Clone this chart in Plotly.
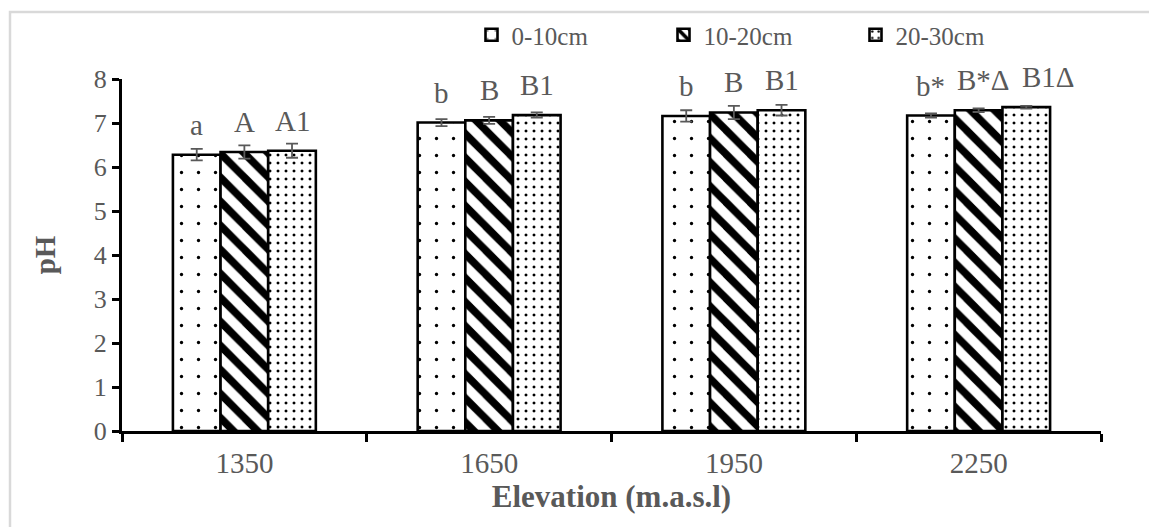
import plotly.graph_objects as go

# ---- data ----
elevations = ["1350", "1650", "1950", "2250"]
series_names = ["0-10cm", "10-20cm", "20-30cm"]
ph_0_10 = [6.28, 7.01, 7.16, 7.17]
ph_10_20 = [6.34, 7.06, 7.24, 7.29]
ph_20_30 = [6.37, 7.18, 7.29, 7.36]
err_0_10 = [0.13, 0.08, 0.13, 0.05]
err_10_20 = [0.15, 0.08, 0.15, 0.04]
err_20_30 = [0.16, 0.06, 0.12, 0.03]
lab_0_10 = ["a", "b", "b", "b*"]
lab_10_20 = ["A", "B", "B", "B*Δ"]
lab_20_30 = ["A1", "B1", "B1", "B1Δ"]
y_ticks = [0, 1, 2, 3, 4, 5, 6, 7, 8]

values = [ph_0_10, ph_10_20, ph_20_30]
errors = [err_0_10, err_10_20, err_20_30]
labels = [lab_0_10, lab_10_20, lab_20_30]

# ---- style ----
FONT = "Liberation Serif"
GRAY = "#595959"
W, H = 1149, 527
ML, MR, MT, MB = 122, 48, 79, 96
BARGAP = 0.416
patterns = [
    dict(shape=".", size=17, solidity=0.03, fgcolor="black", bgcolor="white",
         fillmode="overlay", fgopacity=1),
    dict(shape="\\", size=17, solidity=0.45, fgcolor="black", bgcolor="white",
         fillmode="overlay", fgopacity=1),
    dict(shape=".", size=8, solidity=0.11, fgcolor="black", bgcolor="white",
         fillmode="overlay", fgopacity=1),
]
label_nudge = {(3, 1): 5, (3, 2): 22}

fig = go.Figure()
for j in range(3):
    fig.add_trace(go.Bar(
        x=elevations, y=values[j], name=series_names[j],
        marker=dict(color="white", pattern=patterns[j],
                    line=dict(color="black", width=2.6)),
        error_y=dict(type="data", array=errors[j], visible=True,
                     color=GRAY, thickness=1.8, width=6),
    ))

bw = (1 - BARGAP) / 3
annotations = []
for j in range(3):
    for i in range(len(elevations)):
        annotations.append(dict(
            x=i + (j - 1) * bw, y=values[j][i], xref="x", yref="y",
            text=labels[j][i], showarrow=False, yanchor="bottom",
            yshift=12, xshift=label_nudge.get((i, j), 0),
            font=dict(family=FONT, size=29, color=GRAY),
        ))

fig.update_layout(
    width=W, height=H,
    margin=dict(l=ML, r=MR, t=MT, b=MB),
    paper_bgcolor="white", plot_bgcolor="white",
    barmode="group", bargap=BARGAP, bargroupgap=0,
    font=dict(family=FONT, color=GRAY),
    showlegend=True,
    legend=dict(orientation="h", x=0.357, xanchor="left", y=1.125, yanchor="middle",
                font=dict(family=FONT, size=25, color=GRAY),
                entrywidth=147, entrywidthmode="pixels",
                bgcolor="rgba(0,0,0,0)", traceorder="normal"),
    annotations=annotations,
    shapes=[dict(type="rect", xref="paper", yref="paper",
                 xsizemode="pixel", xanchor=0, x0=-112, x1=3000,
                 ysizemode="pixel", yanchor=1, y0=67, y1=-3000,
                 line=dict(color="#d9d9d9", width=2.5), layer="below")],
)
fig.update_xaxes(
    showline=True, linecolor="black", linewidth=3,
    ticks="outside", tickson="boundaries", ticklen=8, tickwidth=3, tickcolor="black",
    tickfont=dict(family=FONT, size=29, color=GRAY), ticklabelstandoff=4,
    showgrid=False, zeroline=False,
    title=dict(text="<b>Elevation (m.a.s.l)</b>", font=dict(family=FONT, size=31, color=GRAY), standoff=8),
)
fig.update_yaxes(
    range=[0, 8], tickvals=y_ticks, showline=True, linecolor="black", linewidth=3,
    ticks="outside", ticklen=7, tickwidth=3, tickcolor="black",
    tickfont=dict(family=FONT, size=26, color=GRAY),
    showgrid=False, zeroline=False,
    title=dict(text="<b>pH</b>", font=dict(family=FONT, size=29, color=GRAY), standoff=30),
)

fig.write_html("out.html")
